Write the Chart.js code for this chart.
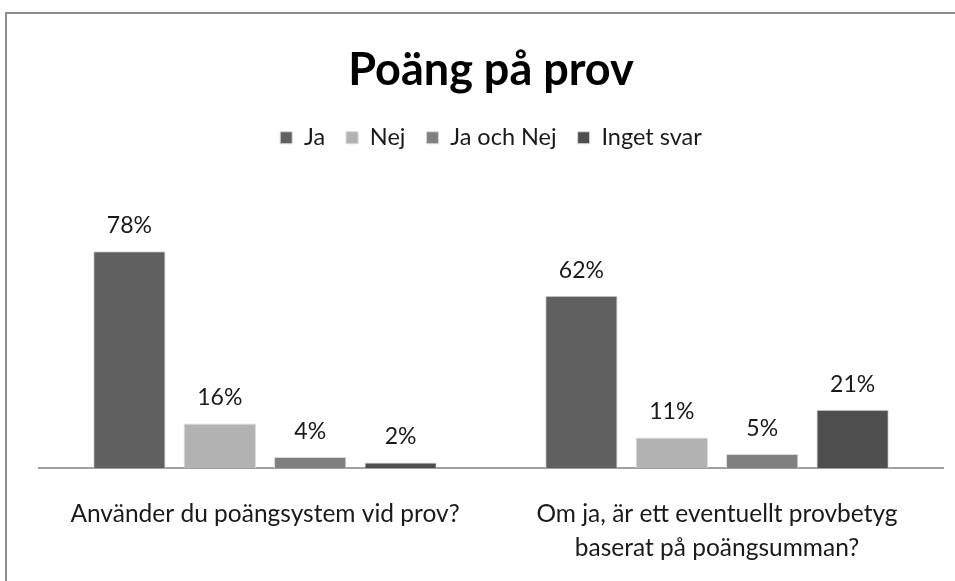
<!DOCTYPE html>
<html><head><meta charset="utf-8">
<script src="https://cdn.jsdelivr.net/npm/chart.js@4"></script>
<style>
html,body{margin:0;padding:0;background:#fff;overflow:hidden}
#wrap{position:absolute;left:0;top:0;width:955px;height:581px}
#frame{position:absolute;left:5px;top:12px;width:1000px;height:1000px;border-left:2px solid #8c8c8c;border-top:2px solid #8c8c8c;pointer-events:none}
</style></head><body>
<div id="wrap"><canvas id="c" width="955" height="581"></canvas></div>
<div id="frame"></div>
<script>
const categories = ["Använder du poängsystem vid prov?", ["Om ja, är ett eventuellt provbetyg", "baserat på poängsumman?"]];
const seriesNames = ["Ja", "Nej", "Ja och Nej", "Inget svar"];
const ja = [78, 62];
const nej = [16, 11];
const jaOchNej = [4, 5];
const ingetSvar = [2, 21];
const colors = ["#606060", "#b2b2b2", "#808080", "#4e4e4e"];
const FONT = "Lato, 'Open Sans', sans-serif";

const valueLabels = {
  id: 'valueLabels',
  afterDatasetsDraw(chart) {
    const ctx = chart.ctx;
    ctx.save();
    ctx.font = "23px " + FONT;
    ctx.fillStyle = "#1a1a1a";
    ctx.textAlign = "center";
    ctx.textBaseline = "bottom";
    chart.data.datasets.forEach((ds, i) => {
      chart.getDatasetMeta(i).data.forEach((bar, j) => {
        ctx.fillText(ds.data[j] + "%", bar.x, bar.y - 14);
      });
    });
    ctx.restore();
  }
};

const vals = [ja, nej, jaOchNej, ingetSvar];
new Chart(document.getElementById('c'), {
  type: 'bar',
  data: {
    labels: categories,
    datasets: seriesNames.map((n, i) => ({
      label: n, data: vals[i], backgroundColor: colors[i],
      borderColor: "#d8d8d8", borderWidth: 1,
      barPercentage: 0.8, categoryPercentage: 0.8
    }))
  },
  options: {
    responsive: false, animation: false,
    layout: { padding: { left: 39, right: 12, top: 43, bottom: 0 } },
    plugins: {
      title: { display: true, text: "Poäng på prov", color: "#000",
        font: { family: FONT, size: 45, weight: 'bold', lineHeight: 1.2 }, padding: { top: 0, bottom: 8 } },
      legend: { position: 'top', labels: { color: "#1a1a1a", font: { family: FONT, size: 23.5 },
        boxWidth: 12, boxHeight: 12, padding: 21 } },
      tooltip: { enabled: false }
    },
    scales: {
      x: {
        grid: { display: false, drawTicks: false },
        border: { display: true, color: "#a0a0a0", width: 2 },
        ticks: { color: "#1a1a1a", font: { family: FONT, size: 24.5, lineHeight: 1.35 }, padding: 30, maxRotation: 0, autoSkip: false },
        afterFit(s) { s.height = 113; }
      },
      y: { display: false, min: 0, max: 111 }
    }
  },
  plugins: [valueLabels]
});
</script>
</body></html>
